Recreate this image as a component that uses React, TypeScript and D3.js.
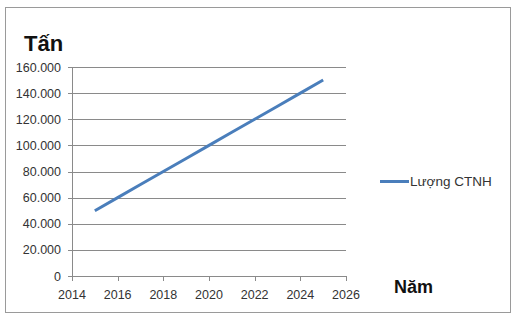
import React from "react";
import * as d3 from "d3";

const years = [2015, 2016, 2017, 2018, 2019, 2020, 2021, 2022, 2023, 2024, 2025];
const amounts = [50000, 60000, 70000, 80000, 90000, 100000, 110000, 120000, 130000, 140000, 150000];
const xTicks = [2014, 2016, 2018, 2020, 2022, 2024, 2026];
const yTicks = [0, 20000, 40000, 60000, 80000, 100000, 120000, 140000, 160000];
const seriesName = "Lượng CTNH";
const yTitle = "Tấn";
const xTitle = "Năm";

const W = 517, H = 318;
const left = 72, right = 346, top = 67, bottom = 276;

export default function App() {
  const x = d3.scaleLinear().domain([2014, 2026]).range([left, right]);
  const y = d3.scaleLinear().domain([0, 160000]).range([bottom, top]);
  const fmt = (v: number) => (v === 0 ? "0" : d3.format(",")(v).replace(/,/g, "."));
  const line = d3.line<number>().x((_, i) => x(years[i])).y((d) => y(d));
  const font = "'Liberation Sans', Arial, sans-serif";
  const grid = "#8a8a8a";
  return (
    <svg width={W} height={H} style={{ position: "absolute", left: 0, top: 0 }} fontFamily={font}>
      <rect x={0} y={0} width={W} height={H} fill="#fff" />
      <rect x={5.5} y={7.5} width={505} height={305} fill="#fff" stroke="#9a9a9a" strokeWidth={1} />
      {yTicks.map((t) => (
        <g key={t}>
          <line x1={left - 4} x2={t === 0 ? right : right} y1={Math.round(y(t)) + 0.5} y2={Math.round(y(t)) + 0.5} stroke={grid} strokeWidth={1} />
          <text x={61} y={y(t) + 4.5} textAnchor="end" fontSize={12.5} fill="#333">{fmt(t)}</text>
        </g>
      ))}
      <line x1={left + 0.5} x2={left + 0.5} y1={top} y2={bottom + 0.5} stroke={grid} />
      {xTicks.map((t) => (
        <g key={t}>
          <line x1={Math.round(x(t)) + 0.5} x2={Math.round(x(t)) + 0.5} y1={bottom} y2={bottom + 5} stroke={grid} />
          <text x={x(t)} y={bottom + 23} textAnchor="middle" fontSize={12.5} fill="#333">{t}</text>
        </g>
      ))}
      <path d={line(amounts) || ""} fill="none" stroke="#4a7ebb" strokeWidth={3} />
      <text x={24} y={51} fontSize={22} fontWeight="bold" fill="#111">{yTitle}</text>
      <text x={394} y={293} fontSize={18} fontWeight="bold" fill="#111">{xTitle}</text>
      <line x1={380} x2={409} y1={181.5} y2={181.5} stroke="#4a7ebb" strokeWidth={3} />
      <text x={410} y={186} fontSize={13.5} fill="#333">{seriesName}</text>
    </svg>
  );
}
